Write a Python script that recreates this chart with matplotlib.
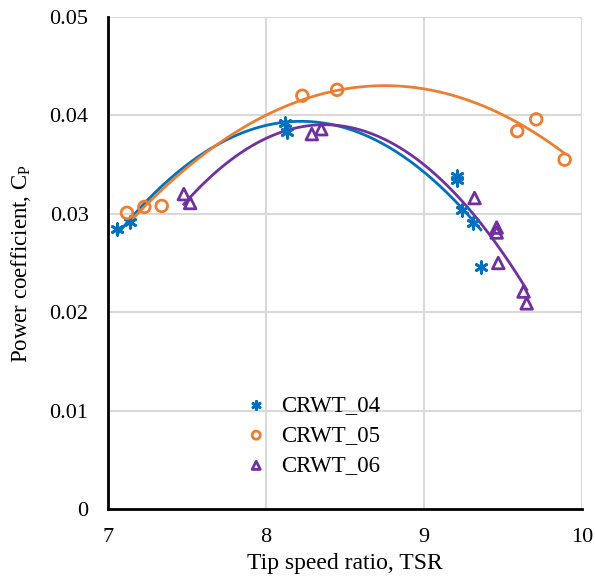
import numpy as np
import matplotlib
matplotlib.use("Agg")
import matplotlib.pyplot as plt

plt.rcParams['font.family'] = ['Liberation Serif', 'DejaVu Serif']

# CRWT_04
tsr_04 = [7.06, 7.14, 8.12, 8.13, 9.21, 9.21, 9.24, 9.31, 9.36]
cp_04 = [0.0285, 0.0292, 0.0392, 0.0383, 0.0338, 0.0334, 0.0304, 0.0291, 0.0246]
# CRWT_05
tsr_05 = [7.12, 7.23, 7.34, 8.23, 8.45, 9.59, 9.71, 9.89]
cp_05 = [0.0301, 0.0307, 0.0308, 0.0420, 0.0426, 0.0384, 0.0396, 0.0355]
# CRWT_06
tsr_06 = [7.48, 7.52, 8.29, 8.35, 9.32, 9.46, 9.46, 9.47, 9.63, 9.65]
cp_06 = [0.0320, 0.0311, 0.0381, 0.0386, 0.0316, 0.0286, 0.0281, 0.0250, 0.0221, 0.0209]

labels = ['CRWT_04', 'CRWT_05', 'CRWT_06']
colors = ['#0070C0', '#ED7D31', '#7030A0']
markers = [(6, 2, 0), 'o', '^']

fig = plt.figure(figsize=(5.95, 5.83), dpi=100)
ax = fig.add_axes([108/595, 1-509/583, (582-108)/595, (509-17)/583])

series = [(tsr_04, cp_04), (tsr_05, cp_05), (tsr_06, cp_06)]
for (x, y), lab, c, m in zip(series, labels, colors, markers):
    x = np.array(x); y = np.array(y)
    if m == 'o' or m == '^':
        ax.scatter(x, y, marker=m, s=70, facecolors='none', edgecolors=c, linewidths=2, label=lab, zorder=3)
    else:
        ax.scatter(x, y, marker=m, s=70, color=c, linewidths=2, label=lab, zorder=3)
    coef = np.polyfit(x, y, 2)
    xs = np.linspace(x.min(), x.max(), 200)
    ax.plot(xs, np.polyval(coef, xs), color=c, lw=2, zorder=2)

ax.set_xlim(7, 10)
ax.set_ylim(0, 0.05)
ax.set_xticks([7, 8, 9, 10])
ax.set_yticks([0, 0.01, 0.02, 0.03, 0.04, 0.05])
ax.set_yticklabels(['0', '0.01', '0.02', '0.03', '0.04', '0.05'])
ax.grid(True, color='#D9D9D9', lw=1.5)
ax.set_axisbelow(True)
for s in ['top', 'right']:
    ax.spines[s].set_visible(False)
for s in ['left', 'bottom']:
    ax.spines[s].set_linewidth(2)
ax.tick_params(length=0, labelsize=16, pad=14)
ax.set_xlabel('Tip speed ratio, TSR', fontsize=17, labelpad=4)
ax.set_ylabel('Power coefficient, C$_\\mathregular{P}$', fontsize=16.5, labelpad=12)
leg = ax.legend(loc='lower left', bbox_to_anchor=(0.274, 0.057), frameon=False, fontsize=16.5,
                handlelength=1.2, handletextpad=0.5, labelspacing=0.4, markerscale=0.7,
                borderpad=0.2, borderaxespad=0)
fig.savefig('out.png', dpi=100)
